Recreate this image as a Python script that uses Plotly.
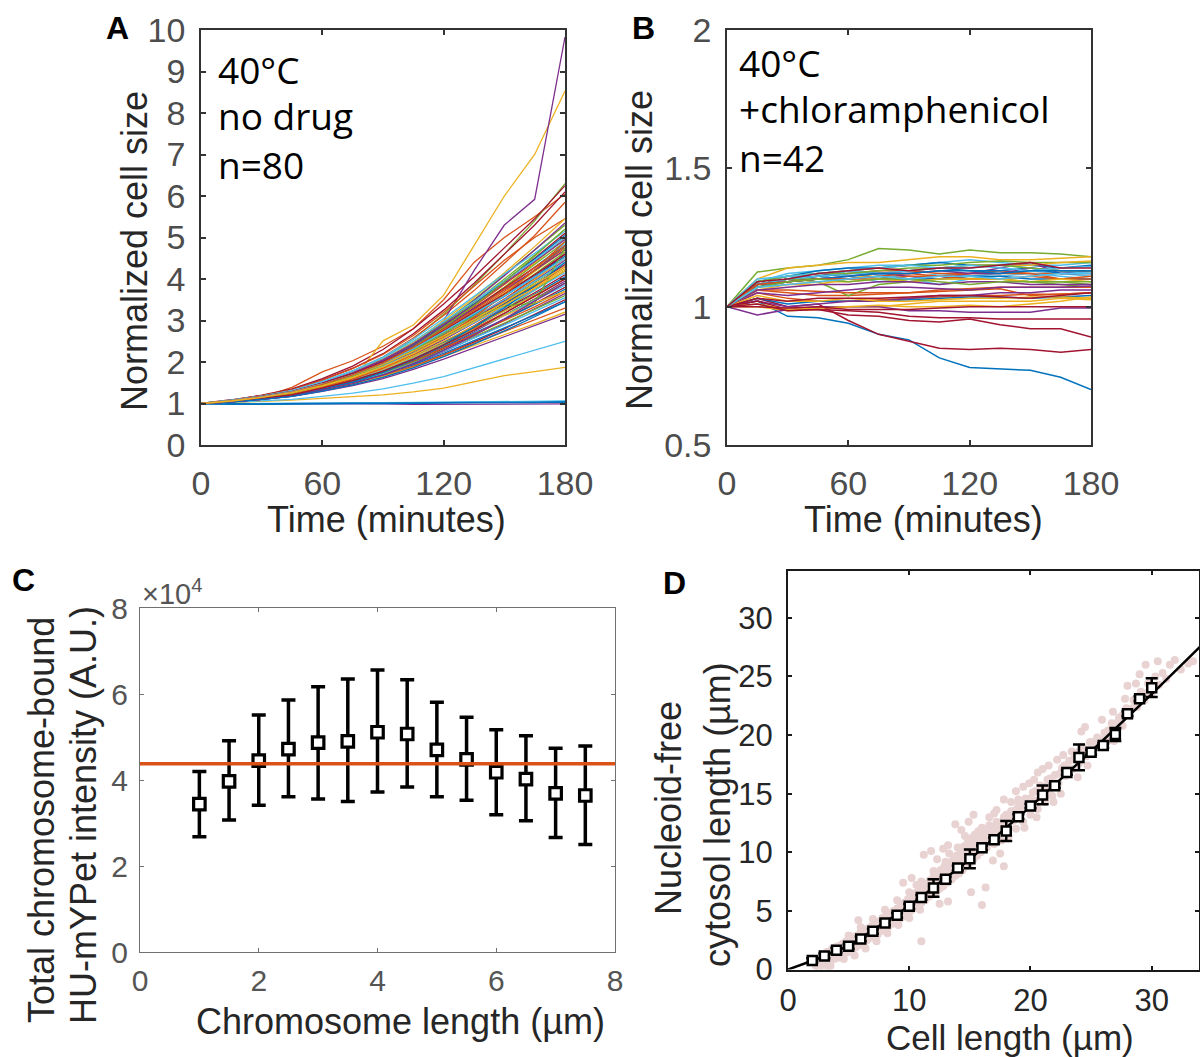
import plotly.graph_objects as go

# ---------------- data ----------------
time_min = [0, 15, 30, 45, 60, 75, 90, 105, 120, 135, 150, 165, 180]
matlab_colors = ["#0072BD", "#D95319", "#EDB120", "#7E2F8E", "#77AC30", "#4DBEEE", "#A2142F"]

# Panel A: 40C, no drug (n=80) normalized cell size
A_curves = [
    [1, 0.98, 0.99, 1.0, 1.0, 1.01, 1.01, 1.02, 1.03, 1.03, 1.04, 1.04, 1.05],
    [1, 1.05, 1.15, 1.39, 1.76, 2.03, 2.38, 2.8, 3.5, 4.4, 5.0, 5.5, 6.05],
    [1, 1.02, 1.05, 1.08, 1.12, 1.16, 1.21, 1.28, 1.37, 1.52, 1.67, 1.77, 1.87],
    [1, 1.0, 1.0, 0.99, 0.99, 0.99, 0.99, 0.98, 0.98, 0.99, 0.99, 0.98, 0.99],
    [1, 1.07, 1.16, 1.28, 1.48, 1.74, 2.08, 2.55, 3.15, 3.85, 4.6, 5.4, 6.3],
    [1, 0.99, 1.0, 1.0, 1.01, 1.01, 1.02, 1.02, 1.03, 1.04, 1.05, 1.05, 1.06],
    [1, 1.09, 1.2, 1.35, 1.6, 1.9, 2.3, 2.8, 3.4, 4.05, 4.75, 5.45, 6.25],
    [1, 0.99, 0.99, 1.0, 1.0, 1.0, 1.01, 1.01, 1.02, 1.02, 1.03, 1.03, 1.03],
    [1, 1.07, 1.17, 1.3, 1.52, 1.78, 2.12, 2.58, 3.12, 3.72, 4.38, 5.05, 5.85],
    [1, 1.04, 1.1, 1.19, 1.33, 1.56, 2.51, 2.89, 3.61, 4.8, 6.0, 7.0, 8.53],
    [1, 1.05, 1.12, 1.22, 1.4, 1.62, 1.92, 2.35, 3.0, 4.2, 5.3, 5.92, 9.83],
    [1, 1.07, 1.16, 1.28, 1.49, 1.73, 2.04, 2.45, 2.95, 3.5, 4.1, 4.7, 5.3],
    [1, 1.03, 1.06, 1.1, 1.17, 1.25, 1.35, 1.49, 1.65, 1.86, 2.08, 2.28, 2.5],
    [1, 1.08, 1.19, 1.33, 1.57, 1.85, 2.2, 2.68, 3.25, 3.9, 4.6, 5.3, 6.1],
    [1, 0.98, 0.98, 0.99, 1.0, 1.0, 1.0, 1.01, 1.01, 1.02, 1.02, 1.02, 1.04],
    [1, 1.08, 1.19, 1.33, 1.56, 1.84, 2.18, 2.64, 3.2, 3.82, 4.45, 5.0, 5.45],
    [1, 1.07, 1.17, 1.29, 1.5, 1.75, 2.06, 2.48, 3.0, 3.55, 4.15, 4.78, 5.45],
    [1, 1.06, 1.15, 1.27, 1.47, 1.71, 2.02, 2.43, 2.93, 3.48, 4.08, 4.7, 5.35],
    [1, 1.07, 1.16, 1.28, 1.48, 1.72, 2.03, 2.43, 2.92, 3.44, 4.0, 4.58, 5.2],
    [1, 1.08, 1.18, 1.31, 1.53, 1.79, 2.12, 2.55, 3.05, 3.58, 4.12, 4.62, 5.15],
    [1, 1.06, 1.15, 1.26, 1.46, 1.69, 1.99, 2.38, 2.86, 3.38, 3.94, 4.5, 5.1],
    [1, 1.07, 1.16, 1.27, 1.47, 1.7, 2.0, 2.4, 2.88, 3.4, 3.95, 4.48, 5.05],
    [1, 1.07, 1.16, 1.27, 1.47, 1.7, 2.0, 2.38, 2.85, 3.34, 3.87, 4.39, 5.0],
    [1, 1.06, 1.14, 1.25, 1.43, 1.65, 1.93, 2.3, 2.75, 3.25, 3.8, 4.38, 5.0],
    [1, 1.07, 1.17, 1.29, 1.5, 1.74, 2.05, 2.44, 2.9, 3.38, 3.9, 4.42, 4.95],
    [1, 1.06, 1.15, 1.26, 1.45, 1.68, 1.97, 2.34, 2.8, 3.28, 3.8, 4.34, 4.9],
    [1, 1.06, 1.14, 1.25, 1.44, 1.66, 1.94, 2.31, 2.76, 3.24, 3.75, 4.28, 4.85],
    [1, 1.07, 1.16, 1.28, 1.48, 1.71, 2.0, 2.37, 2.82, 3.29, 3.78, 4.28, 4.8],
    [1, 1.05, 1.13, 1.23, 1.41, 1.62, 1.89, 2.24, 2.67, 3.14, 3.65, 4.2, 4.8],
    [1, 1.06, 1.15, 1.26, 1.45, 1.67, 1.95, 2.31, 2.75, 3.21, 3.7, 4.21, 4.75],
    [1, 1.06, 1.15, 1.26, 1.44, 1.66, 1.94, 2.3, 2.73, 3.18, 3.66, 4.17, 4.7],
    [1, 1.07, 1.17, 1.29, 1.49, 1.73, 2.02, 2.39, 2.83, 3.28, 3.74, 4.21, 4.7],
    [1, 1.06, 1.14, 1.25, 1.43, 1.64, 1.91, 2.26, 2.68, 3.13, 3.62, 4.12, 4.65],
    [1, 1.06, 1.15, 1.26, 1.44, 1.66, 1.93, 2.28, 2.7, 3.14, 3.6, 4.07, 4.6],
    [1, 1.05, 1.13, 1.23, 1.4, 1.6, 1.85, 2.18, 2.58, 3.02, 3.5, 4.03, 4.6],
    [1, 1.07, 1.16, 1.27, 1.46, 1.68, 1.96, 2.31, 2.72, 3.14, 3.58, 4.05, 4.55],
    [1, 1.06, 1.14, 1.25, 1.43, 1.64, 1.9, 2.24, 2.64, 3.06, 3.52, 4.0, 4.5],
    [1, 1.05, 1.12, 1.22, 1.39, 1.58, 1.83, 2.15, 2.55, 2.98, 3.46, 3.97, 4.5],
    [1, 1.06, 1.15, 1.26, 1.44, 1.65, 1.91, 2.24, 2.63, 3.04, 3.48, 3.95, 4.45],
    [1, 1.06, 1.14, 1.24, 1.42, 1.62, 1.88, 2.21, 2.6, 3.01, 3.44, 3.91, 4.4],
    [1, 1.07, 1.17, 1.29, 1.48, 1.7, 1.97, 2.31, 2.7, 3.09, 3.5, 3.94, 4.4],
    [1, 1.05, 1.13, 1.23, 1.4, 1.6, 1.85, 2.17, 2.55, 2.96, 3.4, 3.86, 4.35],
    [1, 1.06, 1.14, 1.24, 1.42, 1.62, 1.87, 2.19, 2.57, 2.97, 3.39, 3.83, 4.3],
    [1, 1.05, 1.12, 1.21, 1.37, 1.56, 1.8, 2.1, 2.47, 2.87, 3.32, 3.8, 4.3],
    [1, 1.06, 1.15, 1.25, 1.43, 1.63, 1.88, 2.19, 2.56, 2.95, 3.36, 3.79, 4.25],
    [1, 1.06, 1.14, 1.24, 1.41, 1.61, 1.85, 2.17, 2.54, 2.93, 3.34, 3.74, 4.2],
    [1, 1.05, 1.12, 1.21, 1.37, 1.55, 1.78, 2.08, 2.44, 2.83, 3.26, 3.72, 4.2],
    [1, 1.07, 1.16, 1.27, 1.45, 1.65, 1.9, 2.21, 2.57, 2.94, 3.33, 3.73, 4.15],
    [1, 1.05, 1.13, 1.23, 1.39, 1.58, 1.82, 2.12, 2.48, 2.86, 3.26, 3.67, 4.1],
    [1, 1.06, 1.14, 1.24, 1.4, 1.59, 1.83, 2.13, 2.48, 2.85, 3.23, 3.63, 4.05],
    [1, 1.05, 1.13, 1.22, 1.38, 1.57, 1.8, 2.09, 2.43, 2.8, 3.18, 3.58, 4.0],
    [1, 1.06, 1.14, 1.25, 1.42, 1.61, 1.85, 2.15, 2.5, 2.86, 3.23, 3.61, 4.0],
    [1, 1.05, 1.12, 1.21, 1.36, 1.54, 1.76, 2.04, 2.37, 2.73, 3.12, 3.52, 3.95],
    [1, 1.05, 1.13, 1.22, 1.38, 1.56, 1.78, 2.07, 2.4, 2.76, 3.13, 3.51, 3.9],
    [1, 1.06, 1.14, 1.24, 1.4, 1.58, 1.81, 2.1, 2.43, 2.77, 3.12, 3.48, 3.85],
    [1, 1.05, 1.12, 1.21, 1.36, 1.53, 1.74, 2.01, 2.32, 2.66, 3.02, 3.4, 3.8],
    [1, 1.05, 1.13, 1.22, 1.37, 1.55, 1.76, 2.04, 2.36, 2.69, 3.03, 3.39, 3.75],
    [1, 1.05, 1.13, 1.22, 1.37, 1.54, 1.75, 2.03, 2.34, 2.67, 3.0, 3.33, 3.7],
    [1, 1.06, 1.14, 1.24, 1.41, 1.6, 1.83, 2.12, 2.45, 2.79, 3.12, 3.42, 3.7],
    [1, 1.04, 1.11, 1.19, 1.33, 1.49, 1.69, 1.95, 2.25, 2.58, 2.92, 3.28, 3.65],
    [1, 1.05, 1.12, 1.21, 1.36, 1.52, 1.73, 1.99, 2.29, 2.61, 2.94, 3.27, 3.6],
    [1, 1.05, 1.12, 1.21, 1.35, 1.51, 1.71, 1.97, 2.26, 2.57, 2.89, 3.22, 3.55],
    [1, 1.04, 1.1, 1.18, 1.31, 1.46, 1.65, 1.89, 2.17, 2.48, 2.8, 3.15, 3.5],
    [1, 1.05, 1.12, 1.2, 1.34, 1.5, 1.69, 1.93, 2.21, 2.51, 2.82, 3.13, 3.45],
    [1, 1.05, 1.11, 1.19, 1.33, 1.48, 1.67, 1.9, 2.17, 2.45, 2.74, 3.02, 3.3],
    [1, 1.05, 1.11, 1.19, 1.32, 1.47, 1.65, 1.87, 2.13, 2.39, 2.66, 2.92, 3.2],
    [1, 1.04, 1.1, 1.17, 1.29, 1.43, 1.6, 1.82, 2.07, 2.34, 2.61, 2.88, 3.15],
    [1, 1.06, 1.14, 1.25, 1.43, 1.65, 1.93, 2.28, 2.7, 3.1, 3.35, 3.42, 4.75],
    [1, 1.08, 1.18, 1.31, 1.53, 1.78, 2.1, 2.5, 2.97, 3.45, 3.95, 4.45, 5.0],
    [1, 1.07, 1.17, 1.29, 1.49, 1.72, 2.0, 2.35, 2.76, 3.19, 3.64, 4.1, 4.6],
    [1, 1.04, 1.11, 1.19, 1.34, 1.52, 1.75, 2.05, 2.42, 2.84, 3.3, 3.83, 4.4],
    [1, 1.05, 1.12, 1.22, 1.39, 1.59, 1.85, 2.19, 2.61, 3.08, 3.62, 4.22, 4.9],
    [1, 1.07, 1.16, 1.28, 1.47, 1.68, 1.94, 2.26, 2.63, 3.02, 3.44, 3.86, 4.3],
    [1, 1.04, 1.1, 1.18, 1.32, 1.48, 1.69, 1.96, 2.28, 2.64, 3.04, 3.46, 3.9],
    [1, 1.06, 1.15, 1.26, 1.45, 1.68, 1.97, 2.36, 2.83, 3.36, 3.93, 4.55, 5.2],
    [1, 1.07, 1.16, 1.28, 1.47, 1.69, 1.97, 2.32, 2.73, 3.15, 3.59, 4.04, 4.5],
    [1, 1.05, 1.12, 1.21, 1.37, 1.55, 1.78, 2.07, 2.41, 2.77, 3.17, 3.58, 4.0],
    [1, 1.04, 1.1, 1.17, 1.3, 1.45, 1.63, 1.86, 2.13, 2.43, 2.75, 3.09, 3.45],
    [1, 1.06, 1.15, 1.27, 1.46, 1.69, 1.98, 2.35, 2.79, 3.25, 3.75, 4.27, 4.8],
    [1, 1.06, 1.15, 1.26, 1.43, 1.63, 1.88, 2.2, 2.57, 2.96, 3.37, 3.78, 4.2],
]

# Panel B: 40C + chloramphenicol (n=42)
B_curves = [
    [1, 1.02, 0.965, 0.96, 0.94, 0.9, 0.88, 0.815, 0.78, 0.775, 0.77, 0.745, 0.70],
    [1, 1.05, 1.03, 1.02, 1.02, 1.025, 1.03, 1.035, 1.04, 1.04, 1.045, 1.045, 1.05],
    [1, 1.0, 0.985, 0.99, 1.0, 1.0, 1.01, 1.02, 1.02, 1.02, 1.02, 1.03, 1.025],
    [1, 0.97, 0.99, 1.0, 1.0, 1.0, 0.985, 0.985, 0.98, 0.98, 0.98, 0.995, 0.995],
    [1, 1.125, 1.14, 1.15, 1.17, 1.21, 1.205, 1.19, 1.205, 1.195, 1.195, 1.19, 1.18],
    [1, 1.09, 1.12, 1.13, 1.14, 1.15, 1.15, 1.16, 1.17, 1.16, 1.15, 1.15, 1.16],
    [1, 1.03, 1.0, 1.01, 0.95, 0.9, 0.875, 0.85, 0.845, 0.85, 0.845, 0.835, 0.845],
    [1, 1.03, 1.01, 1.02, 1.02, 1.02, 1.025, 1.03, 1.035, 1.035, 1.03, 1.035, 1.04],
    [1, 1.06, 1.05, 1.04, 1.04, 1.045, 1.05, 1.055, 1.06, 1.065, 1.04, 1.045, 1.05],
    [1, 1.1, 1.14, 1.15, 1.16, 1.16, 1.17, 1.18, 1.18, 1.17, 1.17, 1.175, 1.18],
    [1, 1.02, 1.0, 1.01, 1.02, 1.02, 1.03, 1.04, 1.04, 1.05, 1.05, 1.06, 1.06],
    [1, 1.08, 1.1, 1.09, 1.04, 1.08, 1.09, 1.1, 1.11, 1.1, 1.09, 1.08, 1.07],
    [1, 1.07, 1.1, 1.12, 1.11, 1.09, 1.1, 1.12, 1.11, 1.12, 1.13, 1.12, 1.11],
    [1, 1.02, 0.99, 0.99, 0.97, 0.965, 0.95, 0.945, 0.955, 0.935, 0.92, 0.92, 0.89],
    [1, 1.09, 1.11, 1.13, 1.14, 1.14, 1.15, 1.16, 1.15, 1.15, 1.15, 1.14, 1.15],
    [1, 1.08, 1.1, 1.11, 1.12, 1.13, 1.13, 1.12, 1.12, 1.13, 1.12, 1.12, 1.12],
    [1, 1.01, 0.99, 0.995, 1.0, 1.005, 1.0, 1.0, 1.005, 1.0, 1.01, 1.02, 1.035],
    [1, 1.08, 1.1, 1.11, 1.13, 1.12, 1.11, 1.1, 1.12, 1.14, 1.16, 1.12, 1.13],
    [1, 1.09, 1.11, 1.12, 1.13, 1.14, 1.15, 1.15, 1.16, 1.165, 1.16, 1.16, 1.16],
    [1, 1.09, 1.11, 1.1, 1.13, 1.12, 1.1, 1.08, 1.1, 1.11, 1.12, 1.11, 1.1],
    [1, 1.01, 0.985, 0.99, 0.985, 0.98, 0.965, 0.96, 0.96, 0.955, 0.955, 0.955, 0.955],
    [1, 1.08, 1.1, 1.11, 1.12, 1.12, 1.13, 1.14, 1.13, 1.13, 1.14, 1.12, 1.12],
    [1, 1.06, 1.06, 1.055, 1.05, 1.05, 1.05, 1.06, 1.065, 1.07, 1.07, 1.07, 1.07],
    [1, 1.07, 1.08, 1.08, 1.1, 1.12, 1.13, 1.14, 1.15, 1.15, 1.15, 1.16, 1.165],
    [1, 1.05, 1.04, 1.05, 1.06, 1.07, 1.07, 1.065, 1.06, 1.07, 1.07, 1.07, 1.075],
    [1, 1.08, 1.1, 1.1, 1.1, 1.11, 1.09, 1.1, 1.1, 1.1, 1.09, 1.09, 1.08],
    [1, 1.08, 1.1, 1.11, 1.12, 1.12, 1.13, 1.14, 1.14, 1.15, 1.14, 1.13, 1.12],
    [1, 1.0, 0.995, 1.0, 0.99, 0.99, 0.99, 0.995, 1.0, 1.0, 1.0, 1.0, 1.0],
    [1, 1.08, 1.09, 1.1, 1.1, 1.11, 1.1, 1.1, 1.11, 1.11, 1.1, 1.1, 1.1],
    [1, 1.07, 1.09, 1.1, 1.1, 1.11, 1.12, 1.11, 1.12, 1.12, 1.12, 1.1, 1.1],
    [1, 1.04, 1.02, 1.02, 1.03, 1.02, 1.02, 1.025, 1.03, 1.03, 1.035, 1.035, 1.03],
    [1, 1.08, 1.09, 1.1, 1.11, 1.12, 1.12, 1.13, 1.12, 1.12, 1.14, 1.13, 1.13],
    [1, 1.09, 1.11, 1.12, 1.12, 1.13, 1.14, 1.14, 1.15, 1.15, 1.14, 1.13, 1.13],
    [1, 1.1, 1.11, 1.12, 1.13, 1.14, 1.15, 1.14, 1.15, 1.14, 1.13, 1.14, 1.145],
    [1, 1.03, 1.02, 1.03, 1.03, 1.03, 1.035, 1.04, 1.04, 1.035, 1.03, 1.04, 1.05],
    [1, 1.07, 1.09, 1.1, 1.11, 1.12, 1.12, 1.13, 1.13, 1.12, 1.13, 1.13, 1.13],
    [1, 1.08, 1.09, 1.1, 1.1, 1.1, 1.11, 1.11, 1.1, 1.1, 1.11, 1.1, 1.11],
    [1, 1.06, 1.08, 1.09, 1.09, 1.1, 1.09, 1.1, 1.1, 1.1, 1.09, 1.1, 1.09],
    [1, 1.06, 1.07, 1.08, 1.08, 1.09, 1.09, 1.08, 1.09, 1.09, 1.08, 1.08, 1.08],
    [1, 1.07, 1.09, 1.1, 1.09, 1.1, 1.1, 1.09, 1.08, 1.09, 1.09, 1.09, 1.09],
    [1, 1.07, 1.08, 1.09, 1.1, 1.11, 1.1, 1.11, 1.11, 1.1, 1.11, 1.12, 1.12],
    [1, 1.09, 1.1, 1.12, 1.13, 1.14, 1.13, 1.14, 1.14, 1.15, 1.16, 1.14, 1.14],
]

# Panel C: total chromosome-bound HU-mYPet intensity vs chromosome length
C_length_um = [1, 1.5, 2, 2.5, 3, 3.5, 4, 4.5, 5, 5.5, 6, 6.5, 7, 7.5]
C_mean = [34400, 39700, 44500, 47200, 48700, 49000, 51100, 50700, 47000, 44800, 41800, 40200, 36900, 36400]
C_upper = [42000, 49100, 55100, 58600, 61700, 63500, 65600, 63300, 58100, 54600, 51700, 50300, 47400, 47900]
C_lower = [26800, 30700, 34100, 36100, 35600, 35000, 37200, 38400, 36100, 35300, 31900, 30500, 26600, 25000]
C_overall_mean = 43800

# Panel D: nucleoid-free cytosol length vs cell length
D_bin_x = [2, 3, 4, 5, 6, 7, 8, 9, 10, 11, 12, 13, 14, 15, 16, 17, 18, 19, 20, 21, 22, 23, 24, 25, 26, 27, 28, 29, 30]
D_bin_y = [0.77, 1.16, 1.64, 1.98, 2.61, 3.26, 3.97, 4.62, 5.39, 6.15, 6.95, 7.71, 8.65, 9.44, 10.38, 11.06,
           11.82, 13.04, 13.95, 14.89, 15.68, 16.81, 18.09, 18.54, 19.11, 20.05, 21.83, 23.11, 24.04]
D_bin_err = [0.2, 0.2, 0.2, 0.2, 0.2, 0.2, 0.2, 0.2, 0.2, 0.2, 0.75, 0.2, 0.2, 0.8, 0.2, 0.2,
             0.85, 0.2, 0.2, 0.8, 0.2, 0.2, 1.1, 0.2, 0.2, 0.55, 0.2, 0.2, 0.8]
D_fit_x = [0, 2, 5, 10, 15, 20, 25, 30, 34]
D_fit_y = [0, 0.75, 2.0, 5.4, 9.4, 13.9, 18.6, 23.5, 27.55]
D_cells = [
    (2.3, 0.3), (2.5, 0.9), (2.6, 0.1), (2.8, 0.6), (2.9, 1.2), (3.0, 0.4), (3.1, 0.9), (3.2, 1.5), (3.3, 0.2),
    (3.4, 1.1), (3.5, 0.7), (3.6, 1.7), (3.7, 1.3), (3.8, 0.9), (3.9, 1.9), (4.0, 1.4), (4.1, 1.0), (4.2, 2.0),
    (4.3, 1.6), (4.4, 1.2), (3.5, 0.3), (4.6, 0.9), (5.5, 1.2), (6.4, 1.8), (7.3, 2.4), (8.2, 3.1), (9.1, 3.8),
    (10.0, 4.4), (10.9, 5.1), (4.5, 2.2), (4.6, 1.7), (4.7, 1.4), (4.8, 2.4), (4.9, 1.9), (5.0, 1.5), (5.1, 2.5),
    (5.2, 2.1), (5.3, 1.7), (5.4, 2.8), (5.5, 2.3), (5.6, 1.9), (5.7, 2.9), (5.8, 2.5), (5.9, 2.1), (6.0, 3.2),
    (6.1, 2.7), (6.2, 2.2), (6.3, 3.4), (6.4, 2.9), (6.5, 2.5), (6.6, 3.5), (6.7, 3.0), (6.8, 2.7), (6.9, 3.7),
    (7.0, 3.2), (5.8, 4.2), (5.0, 2.9), (6.0, 3.6), (7.0, 4.3), (8.0, 5.1), (9.0, 5.9), (10.0, 6.6), (11.0, 7.5),
    (7.1, 2.9), (7.2, 3.9), (7.3, 3.4), (7.4, 3.0), (7.5, 4.1), (7.6, 3.6), (7.7, 3.3), (7.8, 4.4), (7.9, 3.9),
    (8.0, 3.5), (8.1, 4.6), (8.2, 4.1), (8.3, 3.7), (8.4, 4.8), (8.5, 4.3), (8.6, 3.9), (8.7, 5.0), (8.8, 4.6),
    (8.9, 4.2), (9.0, 5.2), (9.1, 4.7), (9.2, 4.3), (9.3, 5.5), (9.4, 5.0), (9.5, 4.5), (9.6, 5.7), (9.7, 5.2),
    (9.8, 4.8), (9.9, 6.0), (10.0, 5.5), (10.1, 5.0), (9.5, 7.4), (10.2, 7.8), (10.6, 7.2),
    (10.2, 6.2), (10.3, 5.7), (10.4, 5.2), (10.5, 6.5), (10.6, 5.9), (10.7, 5.4), (10.8, 6.8), (10.9, 6.2),
    (11.0, 5.7), (11.1, 7.0), (11.2, 6.4), (11.3, 5.9), (11.4, 7.3), (11.5, 6.7), (11.6, 6.2), (11.7, 7.6),
    (11.8, 7.0), (11.9, 6.4), (12.0, 7.9), (12.1, 7.2), (12.2, 6.6), (12.3, 8.2), (12.4, 7.5), (12.5, 6.9),
    (12.6, 8.5), (12.7, 7.7), (12.8, 7.1), (12.9, 8.8), (13.0, 8.0), (13.1, 7.4), (12.0, 8.4), (13.0, 9.2),
    (11.2, 9.8), (11.8, 10.1), (12.3, 9.4), (12.8, 10.3), (13.3, 9.9), (11.0, 2.4), (13.2, 5.8), (12.5, 5.6),
    (13.3, 8.9), (13.4, 8.3), (13.5, 7.7), (13.6, 9.3), (13.7, 8.6), (13.8, 8.0), (13.9, 9.7), (14.0, 8.9),
    (14.1, 8.2), (14.2, 10.1), (14.3, 9.2), (14.4, 8.5), (14.5, 10.5), (14.6, 9.6), (14.7, 8.8), (14.8, 10.8),
    (14.9, 9.9), (15.0, 9.1), (15.1, 11.2), (15.2, 10.2), (15.3, 9.4), (15.4, 11.5), (15.5, 10.5), (15.6, 9.7),
    (15.7, 11.8), (15.8, 10.8), (15.9, 10.0), (16.0, 12.1), (16.2, 11.1), (16.4, 10.4), (16.6, 12.3),
    (16.8, 11.5), (17.0, 10.7), (14.0, 10.4), (15.0, 11.0), (16.0, 11.6), (17.0, 12.0),
    (13.8, 12.4), (14.3, 11.9), (15.3, 13.2), (14.9, 12.6), (15.1, 6.6), (16.0, 5.5), (16.3, 7.0), (17.8, 8.8),
    (17.5, 9.9), (16.9, 9.3), (17.2, 13.6), (17.8, 14.5), (18.8, 15.2),
    (17.2, 12.6), (17.4, 11.8), (17.6, 11.0), (17.8, 13.0), (18.0, 12.2), (18.2, 11.4), (18.4, 13.5),
    (18.6, 12.7), (18.8, 12.0), (19.0, 14.0), (19.2, 13.3), (19.4, 12.6), (19.6, 14.6), (19.8, 13.9),
    (20.0, 13.2), (20.2, 15.1), (20.4, 14.4), (20.6, 13.7), (20.8, 15.7), (21.0, 15.0), (21.2, 14.3),
    (18.0, 13.2), (19.0, 14.5), (20.6, 16.8), (21.0, 17.1),
    (21.4, 16.2), (21.6, 15.4), (21.8, 14.8), (22.0, 16.6), (22.3, 15.9), (22.6, 17.2), (22.9, 16.5),
    (23.2, 17.8), (23.5, 17.1), (23.8, 18.4), (24.0, 17.6), (24.3, 19.0), (24.6, 18.2), (24.9, 19.4),
    (25.2, 18.7), (23.4, 18.6), (24.2, 20.3), (24.5, 20.7), (23.9, 16.4),
    (25.5, 19.8), (25.8, 19.1), (26.1, 20.2), (26.4, 19.5), (26.7, 21.0), (27.0, 20.4), (27.3, 21.5),
    (27.6, 20.8), (27.9, 22.3), (28.2, 21.6), (28.5, 23.0), (28.8, 22.4), (29.1, 23.7), (29.4, 23.0),
    (29.7, 24.4), (30.0, 23.6), (30.3, 25.0), (28.0, 24.2), (29.0, 25.2), (30.6, 24.3),
    (30.9, 25.3), (31.2, 24.8), (31.5, 26.0), (31.9, 26.4), (32.4, 25.6), (33.0, 26.1), (33.4, 26.3),
    (29.5, 26.0), (30.5, 26.3),
    (2.7, 0.5), (3.0, 1.3), (3.4, 0.6), (3.9, 1.2), (4.2, 1.5), (4.5, 1.3), (5.0, 2.2), (5.3, 2.4), (5.7, 2.2),
    (6.1, 2.4), (6.5, 3.1), (6.8, 3.3), (7.2, 3.6), (7.6, 3.9), (8.0, 4.2), (8.4, 4.4), (8.8, 4.9), (9.2, 5.1),
    (9.6, 5.4), (10.0, 5.9), (10.4, 6.1), (10.8, 6.5), (11.2, 6.9), (11.6, 7.3), (12.0, 7.5), (12.4, 8.0),
    (12.8, 8.3), (13.2, 8.6), (13.6, 8.9), (14.0, 9.5), (14.4, 9.9), (14.8, 10.2), (15.2, 10.7), (15.6, 11.1),
    (16.0, 11.1), (16.4, 11.7), (16.8, 12.1), (17.2, 12.2), (17.6, 12.5), (18.0, 12.9), (18.4, 12.9),
    (18.8, 13.6), (19.2, 13.9), (19.6, 14.1), (20.0, 14.6), (20.4, 15.2), (20.8, 15.1), (21.2, 15.6),
    (21.6, 16.3), (22.0, 15.9), (22.4, 16.7), (22.8, 17.4), (23.2, 17.1), (23.6, 18.0), (24.0, 18.6),
    (24.4, 18.8), (24.8, 18.6), (25.2, 19.4), (25.6, 19.2), (26.0, 19.6), (26.4, 20.4), (26.8, 20.2),
    (27.2, 21.1), (27.6, 21.7), (28.0, 22.0), (28.4, 22.3), (28.8, 23.2), (29.2, 23.4), (29.6, 23.6),
    (19.4, 15.6), (19.9, 15.9), (20.3, 16.2), (21.5, 17.4), (22.2, 17.9), (22.7, 18.3), (16.6, 13.0),
    (17.0, 13.3), (18.4, 14.3), (14.6, 11.4), (13.2, 10.6), (20.5, 13.0), (22.5, 15.0), (24.7, 17.4),
    (26.9, 19.5), (21.9, 14.3), (19.5, 12.1), (25.9, 21.3), (26.8, 22.0), (27.8, 23.1), (28.7, 24.4),
]

# ---------------- figure ----------------
W, H = 1200, 1057
SANS = "Liberation Sans, Arial, Helvetica, sans-serif"
TEXTF = "Open Sans, Noto Sans, sans-serif"


def px(x):
    return x / W


def py(y):
    return 1 - y / H


fig = go.Figure()

for i, curve in enumerate(A_curves):
    fig.add_trace(go.Scatter(x=time_min, y=curve, mode="lines", xaxis="x", yaxis="y",
                             line=dict(color=matlab_colors[i % 7], width=1.3), showlegend=False))
for i, curve in enumerate(B_curves):
    fig.add_trace(go.Scatter(x=time_min, y=curve, mode="lines", xaxis="x2", yaxis="y2",
                             line=dict(color=matlab_colors[i % 7], width=1.5), showlegend=False))

# Panel C
fig.add_trace(go.Scatter(
    x=C_length_um, y=C_mean, mode="markers", xaxis="x3", yaxis="y3", showlegend=False,
    marker=dict(symbol="square", size=11.5, color="white", line=dict(color="black", width=3.2)),
    error_y=dict(type="data", symmetric=False,
                 array=[u - m for u, m in zip(C_upper, C_mean)],
                 arrayminus=[m - l for m, l in zip(C_mean, C_lower)],
                 color="black", thickness=3.5, width=7)))
fig.add_shape(type="line", xref="x3 domain", yref="y3", x0=0, x1=1, y0=C_overall_mean, y1=C_overall_mean,
              line=dict(color="#D95319", width=3.5))

# Panel D
fig.add_trace(go.Scatter(x=[p[0] for p in D_cells], y=[p[1] for p in D_cells], mode="markers",
                         xaxis="x4", yaxis="y4", showlegend=False,
                         marker=dict(size=8, color="#e8d2d2", line=dict(width=0))))
fig.add_trace(go.Scatter(x=D_fit_x, y=D_fit_y, mode="lines", xaxis="x4", yaxis="y4", showlegend=False,
                         line=dict(color="black", width=2.5)))
fig.add_trace(go.Scatter(
    x=D_bin_x, y=D_bin_y, mode="markers", xaxis="x4", yaxis="y4", showlegend=False,
    marker=dict(symbol="square", size=9, color="white", line=dict(color="black", width=2.5)),
    error_y=dict(type="data", array=D_bin_err, color="black", thickness=2.5, width=6)))


def axis_style(domain, rng, tickvals, ticktext, color_line, lw, tickfont_size, tickcolor, standoff, anchor,
               ticklen=5):
    return dict(domain=domain, range=rng, tickvals=tickvals, ticktext=ticktext, showline=True,
                linecolor=color_line, linewidth=lw, mirror="ticks", ticks="inside", ticklen=ticklen,
                tickwidth=lw, tickcolor=color_line, showgrid=False, zeroline=False, anchor=anchor,
                tickfont=dict(family=SANS, size=tickfont_size, color=tickcolor), automargin=False,
                ticklabelstandoff=standoff, fixedrange=True)


ax_col = "#333333"
tick_col = "#4d4d4d"
layout = dict(
    width=W, height=H, autosize=False, margin=dict(l=0, r=0, t=0, b=0, pad=0),
    paper_bgcolor="white", plot_bgcolor="white", showlegend=False,
    xaxis=axis_style([px(201), px(565)], [0, 180], [0, 60, 120, 180], ["0", "60", "120", "180"],
                     ax_col, 1.5, 34, tick_col, 7, "y"),
    yaxis=axis_style([py(445), py(30)], [0, 10], list(range(11)), [str(v) for v in range(11)],
                     ax_col, 1.5, 34, tick_col, 7, "x"),
    xaxis2=axis_style([px(727), px(1091)], [0, 180], [0, 60, 120, 180], ["0", "60", "120", "180"],
                      ax_col, 1.5, 34, tick_col, 7, "y2"),
    yaxis2=axis_style([py(445), py(30)], [0.5, 2], [0.5, 1, 1.5, 2], ["0.5", "1", "1.5", "2"],
                      ax_col, 1.5, 34, tick_col, 7, "x2"),
    xaxis3=axis_style([px(140), px(615)], [0, 8], [0, 2, 4, 6, 8], ["0", "2", "4", "6", "8"],
                      "#707070", 1.3, 30, "#555555", 2, "y3", ticklen=4),
    yaxis3=axis_style([py(952), py(608)], [0, 80000], [0, 20000, 40000, 60000, 80000],
                      ["0", "2", "4", "6", "8"], "#707070", 1.3, 30, "#555555", 5, "x3", ticklen=4),
    xaxis4=axis_style([px(788), px(1199)], [0, 33.9], [0, 10, 20, 30], ["0", "10", "20", "30"],
                      "#1a1a1a", 2, 31, "#262626", 2, "y4", ticklen=4),
    yaxis4=axis_style([py(969.5), py(571)], [0, 34], [0, 5, 10, 15, 20, 25, 30],
                      ["0", "5", "10", "15", "20", "25", "30"], "#1a1a1a", 2, 31, "#262626", 7, "x4",
                      ticklen=4),
)
fig.update_layout(**layout)

annots = []


def add_text(text, x, y, size, family=SANS, color="#262626", xanchor="center", angle=0, bold=False):
    if bold:
        text = "<b>" + text + "</b>"
    annots.append(dict(text=text, x=px(x), y=py(y), xref="paper", yref="paper", xanchor=xanchor,
                       yanchor="middle", showarrow=False, textangle=angle,
                       font=dict(family=family, size=size, color=color)))


# panel letters
add_text("A", 117, 28, 32, color="black", bold=True)
add_text("B", 643, 28, 32, color="black", bold=True)
add_text("C", 23, 580, 32, color="black", bold=True)
add_text("D", 674, 583, 32, color="black", bold=True)

# in-panel labels
add_text("40°C", 216, 69, 37, family=TEXTF, color="black", xanchor="left")
add_text("no drug", 216, 116, 37, family=TEXTF, color="black", xanchor="left")
add_text("n=80", 216, 164, 37, family=TEXTF, color="black", xanchor="left")
add_text("40°C", 737, 62, 37, family=TEXTF, color="black", xanchor="left")
add_text("+chloramphenicol", 737, 109, 37, family=TEXTF, color="black", xanchor="left")
add_text("n=42", 737, 157, 37, family=TEXTF, color="black", xanchor="left")

# axis titles
add_text("Time (minutes)", 386, 519, 36)
add_text("Time (minutes)", 923, 519, 36)
add_text("Normalized cell size", 134, 251, 36, angle=-90)
add_text("Normalized cell size", 640, 250, 36, angle=-90)
add_text("Chromosome length (µm)", 400, 1021, 36)
add_text("Total chromosome-bound", 41, 820, 36, angle=-90)
add_text("HU-mYPet intensity (A.U.)", 83, 815, 36, angle=-90)
add_text("×10<sup>4</sup>", 140, 592, 29, color="#555555", xanchor="left")
add_text("Cell length (µm)", 1010, 1037, 35)
add_text("Nucleoid-free", 668, 808, 36, angle=-90)
add_text("cytosol length (µm)", 717, 815, 36, angle=-90)

fig.update_layout(annotations=annots)
fig.write_html("out.html", config={"displayModeBar": False},
               post_script="document.body.style.margin='0px';")
